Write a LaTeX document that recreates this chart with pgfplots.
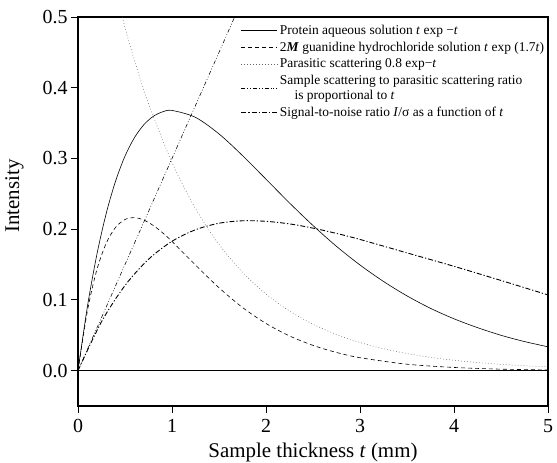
\documentclass[border=0pt]{standalone}
\usepackage{pgfplots}
\pgfplotsset{compat=1.18}
\usepackage{fontspec}
\setmainfont{Liberation Serif}
\begin{document}
\begin{tikzpicture}
\begin{axis}[
  at={(0,0)}, anchor=south west,
  scale only axis, width=470bp, height=389bp,
  xmin=0, xmax=5, ymin=-0.05, ymax=0.5,
  xtick={0,1,2,3,4,5},
  ytick={0,0.1,0.2,0.3,0.4,0.5},
  yticklabel style={/pgf/number format/fixed, /pgf/number format/precision=1, /pgf/number format/fixed zerofill},
  /pgf/number format/assume math mode=true,
  tick align=outside, xtick pos=bottom, ytick pos=left,
  major tick length=7bp,
  axis line style={line width=1.1pt},
  every tick/.style={line width=0.9pt, black},
  ticklabel style={font=\fontsize{20}{22}\selectfont},
  xticklabel style={yshift=-3bp},
  xlabel={Sample thickness \textit{t} (mm)},
  ylabel={Intensity},
  label style={font=\fontsize{21}{24}\selectfont},
  xlabel style={at={(axis description cs:0.5,-0.12)}, anchor=center},
  ylabel style={at={(axis description cs:-0.135,0.54)}, anchor=center},
  legend style={at={(axis description cs:0.34,0.99)}, anchor=north west, draw=none, fill=none,
    font=\fontsize{13.5}{15}\selectfont, row sep=2bp, cells={align=left, anchor=west}},
  legend image code/.code={\draw[#1] (0bp,0bp) -- (36bp,0bp);},
  legend cell align=left,
]
\addplot[black, line width=0.6pt, smooth] coordinates {(0,0)(0.1,0.0905)(0.2,0.1637)(0.3,0.2222)(0.4,0.2681)(0.5,0.3033)(0.6,0.3293)(0.7,0.3476)(0.8,0.3595)(0.9,0.3659)(1,0.3679)(1.25,0.3581)(1.5,0.3347)(1.75,0.3041)(2,0.2707)(2.25,0.2371)(2.5,0.2052)(2.75,0.1757)(3,0.1494)(3.25,0.1261)(3.5,0.1057)(3.75,0.0881)(4,0.0733)(4.25,0.0608)(4.5,0.0500)(4.75,0.0411)(5,0.0337)};
\addlegendentry{Protein aqueous solution \textit{t} exp −\textit{t}}
\addplot[black, line width=0.6pt, smooth, dash pattern=on 4pt off 3pt] coordinates {(0,0)(0.1,0.0844)(0.2,0.1424)(0.3,0.1801)(0.4,0.2026)(0.5,0.2137)(0.6,0.2163)(0.7,0.2130)(0.8,0.2053)(0.9,0.1949)(1,0.1827)(1.25,0.1493)(1.5,0.1172)(1.75,0.0893)(2,0.0667)(2.25,0.0491)(2.5,0.0357)(2.75,0.0257)(3,0.0183)(3.5,0.0091)(4,0.0045)(4.5,0.0021)(5,0.0010)};
\addlegendentry{2\textbf{\textit{M}} guanidine hydrochloride solution \textit{t} exp (1.7\textit{t})}
\addplot[black!60, line width=0.5pt, smooth, dash pattern=on 0.8pt off 2.2pt] coordinates {(0.4,0.5363)(0.5,0.4852)(0.6,0.4390)(0.75,0.3779)(1,0.2943)(1.25,0.2292)(1.5,0.1785)(1.75,0.1390)(2,0.1083)(2.25,0.0843)(2.5,0.0657)(2.75,0.0511)(3,0.0398)(3.25,0.0310)(3.5,0.0242)(3.75,0.0188)(4,0.0147)(4.25,0.0114)(4.5,0.0089)(4.75,0.0069)(5,0.0054)};
\addlegendentry{Parasitic scattering 0.8 exp−\textit{t}}
\addplot[black, line width=0.55pt, dash pattern=on 4pt off 2pt on 0.8pt off 2pt on 0.8pt off 2pt] coordinates {(0,0)(2,0.6)};
\addlegendentry{Sample scattering to parasitic scattering ratio\\\hspace*{1.1em}is proportional to \textit{t}}
\addplot[black, line width=0.9pt, smooth, dash pattern=on 5pt off 2pt on 1.2pt off 2pt] coordinates {(0,0)(0.25,0.0691)(0.5,0.1204)(0.75,0.1574)(1,0.1829)(1.25,0.1992)(1.5,0.2084)(1.75,0.2119)(2,0.2111)(2.25,0.2075)(2.5,0.2015)(2.75,0.1940)(3,0.1855)(3.5,0.1665)(4,0.1475)(4.5,0.1275)(5,0.1070)};
\addlegendentry{Signal-to-noise ratio \textit{I}/σ as a function of \textit{t}}
\addplot[black, line width=0.9pt, forget plot] coordinates {(0,0)(5,0)};
\end{axis}
\pgfresetboundingbox
\path[use as bounding box] (-78bp,-57bp) rectangle (479bp,406bp);
\end{tikzpicture}
\end{document}
